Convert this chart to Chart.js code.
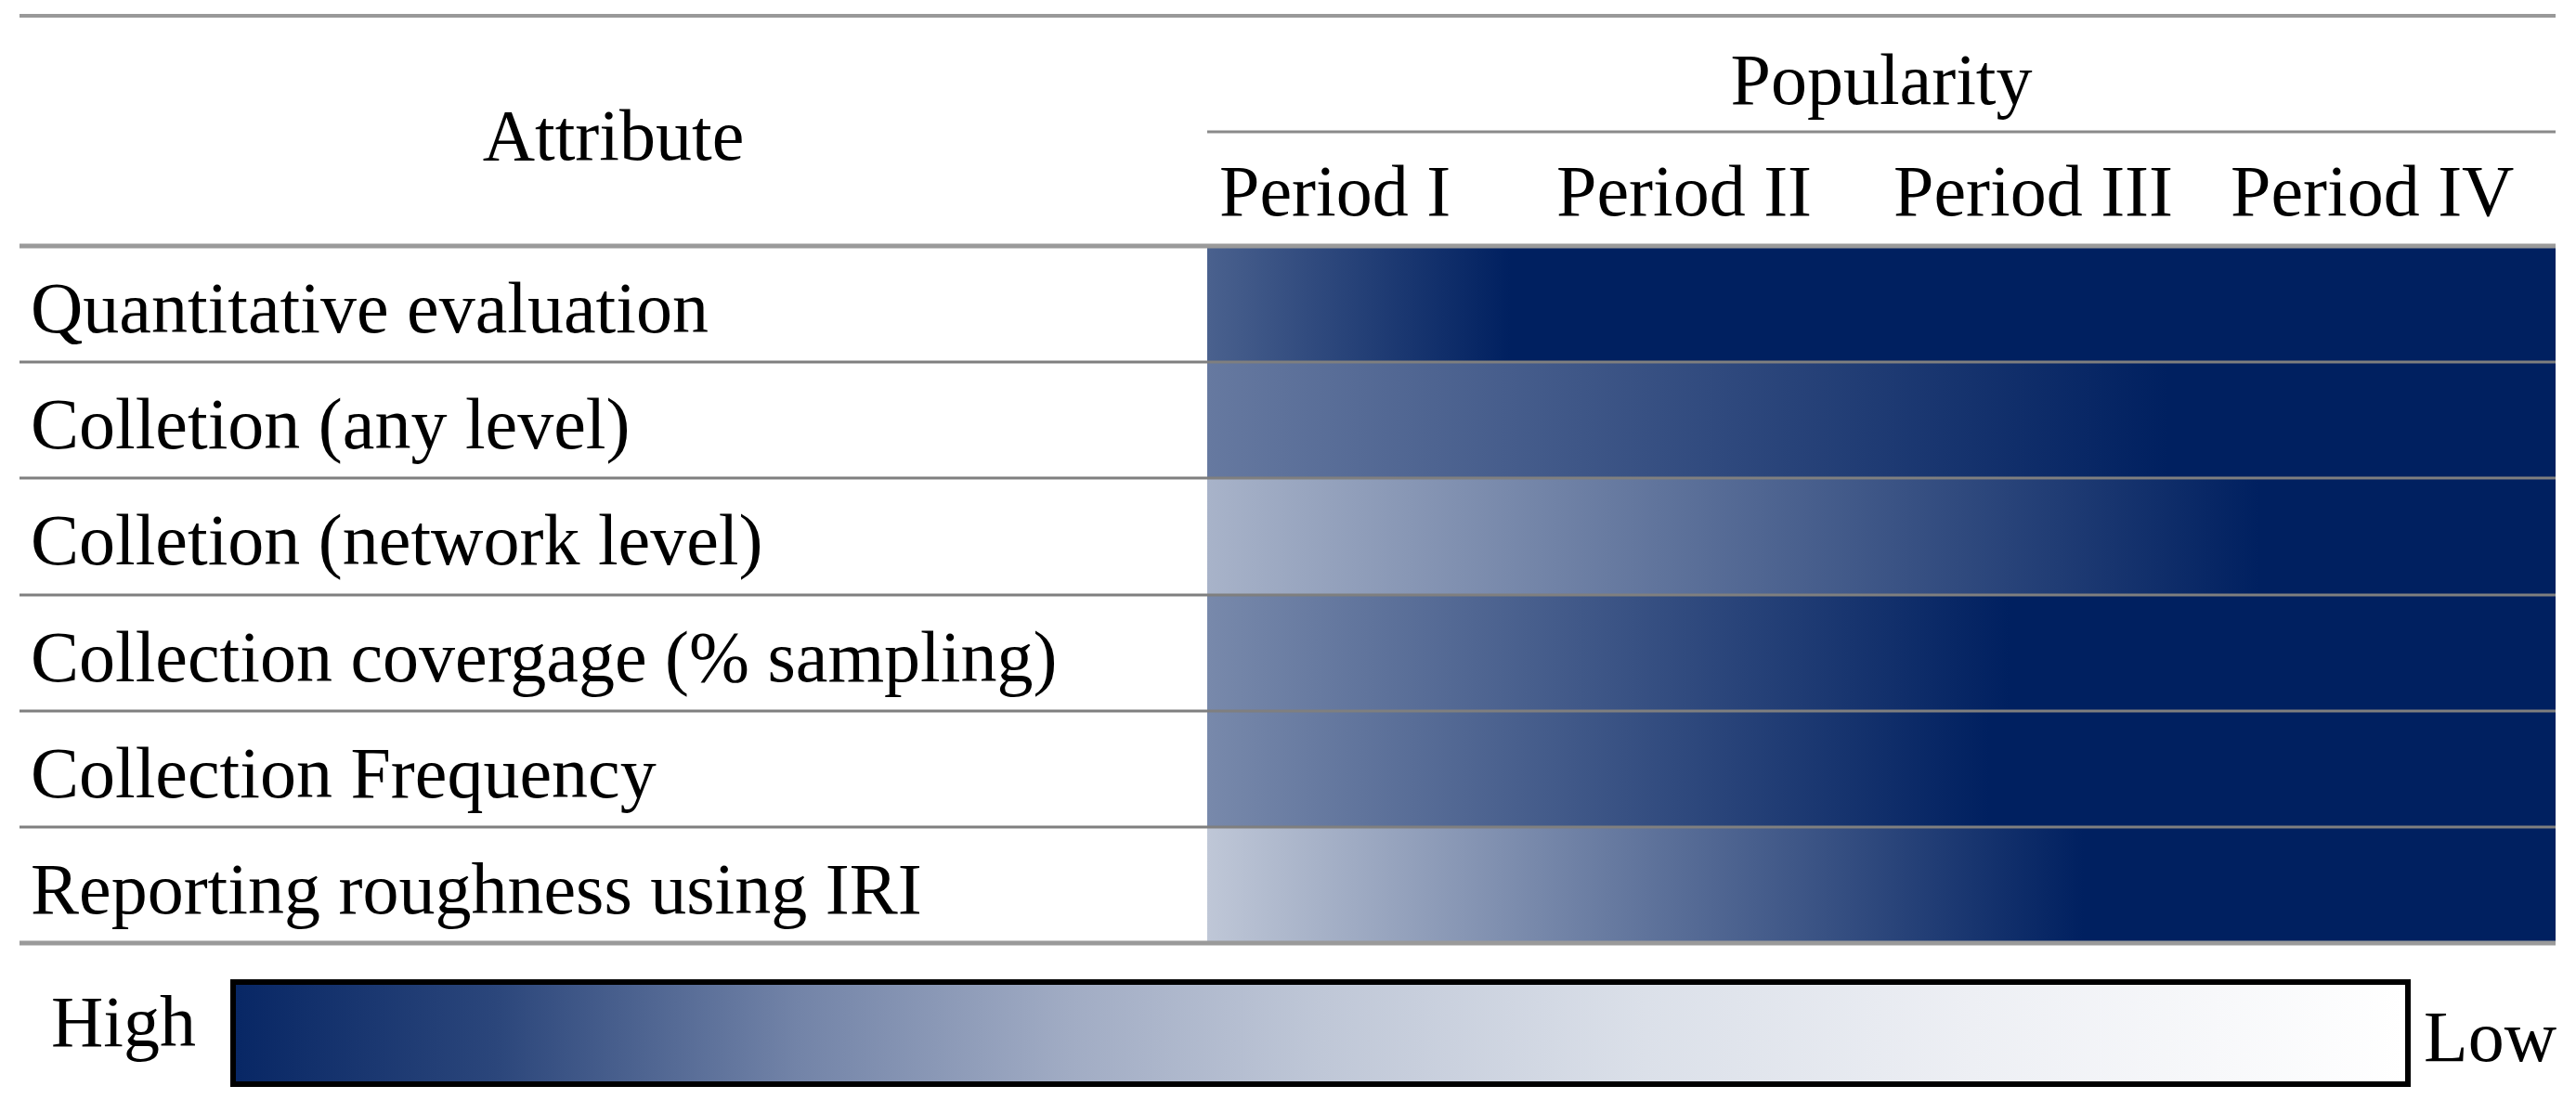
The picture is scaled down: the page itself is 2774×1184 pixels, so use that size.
<!DOCTYPE html>
<html>
<head>
<meta charset="utf-8">
<script src="https://cdn.jsdelivr.net/npm/chart.js@4.4.1/dist/chart.umd.min.js"></script>
<style>
  html, body { margin: 0; padding: 0; background: #fff; }
  canvas { display: block; }
</style>
</head>
<body>
<canvas id="popularity" width="2774" height="1184" style="width:2774px;height:1184px"></canvas>
<script>
"use strict";
var attributes = [
  "Quantitative evaluation",
  "Colletion (any level)",
  "Colletion (network level)",
  "Collection covergage (% sampling)",
  "Collection Frequency",
  "Reporting roughness using IRI"
];
var periods = ["Period I", "Period II", "Period III", "Period IV"];
// popularity at the start of Period I (0 = low, 1 = high)
var startPopularity = [0.71, 0.60, 0.34, 0.53, 0.53, 0.25];
// position on the period axis where popularity becomes "high"
var highFrom = [0.9, 2.85, 3.12, 2.38, 2.32, 2.6];
// legend scale: relative position along the bar and its popularity level
var legendPos = [0, 0.12, 0.26, 0.385, 0.5, 0.65, 0.8, 1];
var legendLevel = [0.97, 0.83, 0.55, 0.37, 0.25, 0.14, 0.07, 0];

var NAVY = [0, 32, 96];
var FONT = "'Liberation Serif', 'Times New Roman', serif";
var FONT_SIZE = 78;

function shade(p) {
  var c = NAVY.map(function (v) { return Math.round(255 + (v - 255) * p); });
  return "rgb(" + c.join(",") + ")";
}

function hline(ctx, x1, x2, y, w, color) {
  ctx.save();
  ctx.strokeStyle = color;
  ctx.lineWidth = w;
  ctx.beginPath();
  ctx.moveTo(x1, y);
  ctx.lineTo(x2, y);
  ctx.stroke();
  ctx.restore();
}

var tableDecor = {
  id: "tableDecor",
  afterDatasetsDraw: function (chart) {
    var ctx = chart.ctx, area = chart.chartArea, y = chart.scales.y;
    var left = 21, right = area.right;
    // rules of the table
    hline(ctx, left, right, 17, 4, "#999");
    hline(ctx, area.left, right, 142, 3, "#8a8a8a");
    for (var i = 0; i < attributes.length - 1; i++) {
      hline(ctx, left, right, Math.round(y.getPixelForValue(i + 0.5)), 3, "#7f7f7f");
    }
    hline(ctx, left, right, area.top, 5, "#9a9a9a");
    hline(ctx, left, right, area.bottom, 5, "#9a9a9a");

    // header of the attribute column
    ctx.save();
    ctx.font = FONT_SIZE + "px " + FONT;
    ctx.fillStyle = "#000";
    ctx.textAlign = "center";
    ctx.textBaseline = "alphabetic";
    ctx.fillText("Attribute", (left + area.left) / 2, 172);

    // colour scale legend
    var bx = 254, bw = 2336, by = 1061, bh = 104;
    var g = ctx.createLinearGradient(bx, 0, bx + bw, 0);
    legendPos.forEach(function (p, k) { g.addColorStop(p, shade(legendLevel[k])); });
    ctx.fillStyle = g;
    ctx.fillRect(bx, by, bw, bh);
    ctx.strokeStyle = "#000";
    ctx.lineWidth = 6;
    ctx.strokeRect(bx - 3, by - 3, bw + 6, bh + 6);
    ctx.fillStyle = "#000";
    ctx.textAlign = "left";
    ctx.fillText("High", 55, 1127);
    ctx.fillText("Low", 2610, 1143);
    ctx.restore();
  }
};

Chart.defaults.font.family = FONT;
Chart.defaults.font.size = FONT_SIZE;
Chart.defaults.color = "#000";

new Chart(document.getElementById("popularity"), {
  type: "bar",
  data: {
    labels: attributes,
    datasets: [{
      data: attributes.map(function () { return [0, periods.length]; }),
      barPercentage: 1,
      categoryPercentage: 1,
      borderWidth: 0,
      backgroundColor: function (c) {
        var chart = c.chart;
        if (!chart.chartArea) return shade(1);
        var xs = chart.scales.x, i = c.dataIndex;
        var x0 = xs.getPixelForValue(0), x1 = xs.getPixelForValue(periods.length);
        var g = chart.ctx.createLinearGradient(x0, 0, x1, 0);
        g.addColorStop(0, shade(startPopularity[i]));
        g.addColorStop(highFrom[i] / periods.length, shade(1));
        g.addColorStop(1, shade(1));
        return g;
      }
    }]
  },
  options: {
    indexAxis: "y",
    responsive: false,
    devicePixelRatio: 1,
    animation: false,
    layout: { padding: { left: 33, right: 22, top: 17, bottom: 168 } },
    plugins: { legend: { display: false }, tooltip: { enabled: false } },
    scales: {
      x: {
        type: "linear",
        position: "top",
        min: 0,
        max: periods.length,
        afterBuildTicks: function (scale) {
          scale.ticks = periods.map(function (p, i) { return { value: i }; });
        },
        afterFit: function (scale) { scale.height = 248; },
        grid: { display: false, drawTicks: false },
        border: { display: false },
        ticks: {
          align: "start",
          labelOffset: 13,
          padding: 7,
          autoSkip: false,
          maxRotation: 0,
          callback: function (v) { return periods[v]; }
        },
        title: { display: true, text: "Popularity", padding: { top: 28, bottom: 0 } }
      },
      y: {
        afterFit: function (scale) { scale.width = 1300 - 33; },
        grid: { display: false, drawTicks: false },
        border: { display: false },
        ticks: { crossAlign: "far", autoSkip: false, padding: 0, labelOffset: 10 }
      }
    }
  },
  plugins: [tableDecor]
});
</script>
</body>
</html>
